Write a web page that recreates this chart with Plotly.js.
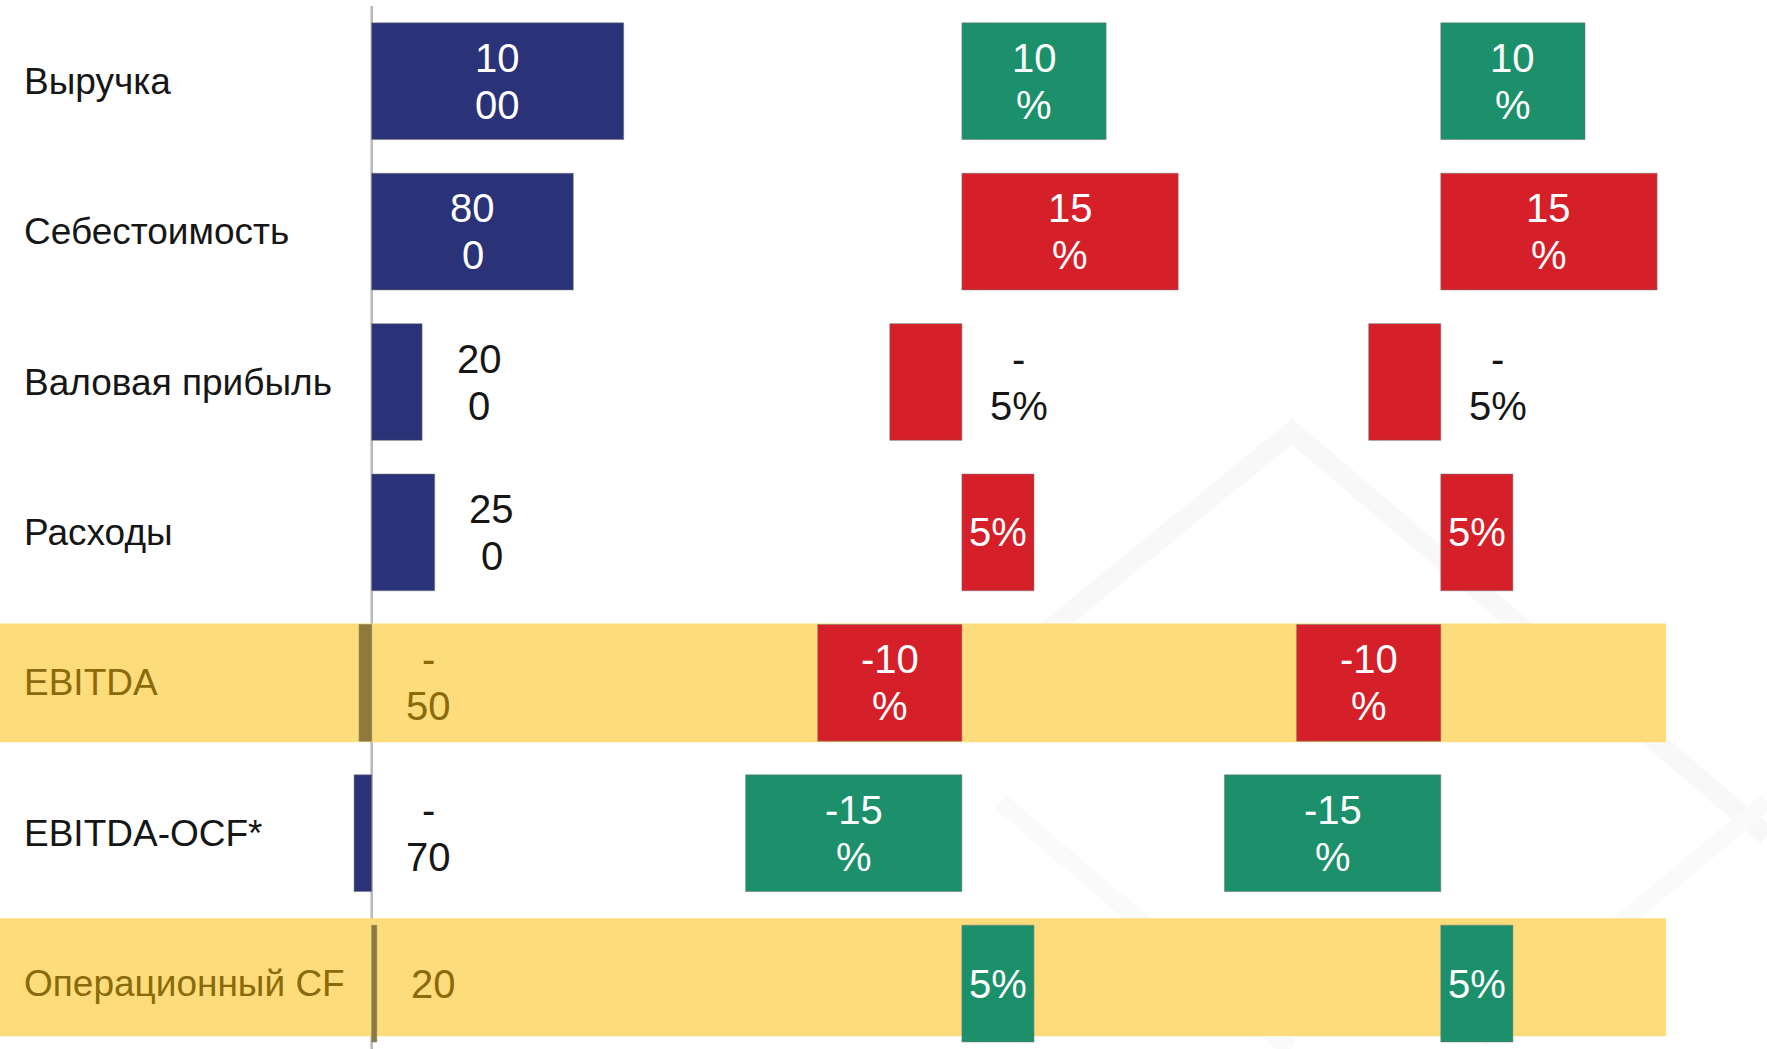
<!DOCTYPE html>
<html>
<head>
<meta charset="utf-8">
<script src="https://cdn.plot.ly/plotly-3.0.1.min.js"></script>
<style>html,body{margin:0;padding:0;background:#fff;}#chart{width:1767px;height:1049px;}</style>
</head>
<body>
<div id="chart"></div>
<script>
// ---- data ----
const categories = ['Выручка', 'Себестоимость', 'Валовая прибыль', 'Расходы', 'EBITDA', 'EBITDA-OCF*', 'Операционный CF'];
const values = [1000, 800, 200, 250, -50, -70, 20];
const changeA = [10, 15, -5, 5, -10, -15, 5];
const changeB = [10, 15, -5, 5, -10, -15, 5];
const valueLabels = ['10<br>00', '80<br>0', '20<br>0', '25<br>0', '-<br>50', '-<br>70', '20'];
const changeLabelsA = ['10<br>%', '15<br>%', '-<br>5%', '5%', '-10<br>%', '-15<br>%', '5%'];
const changeLabelsB = ['10<br>%', '15<br>%', '-<br>5%', '5%', '-10<br>%', '-15<br>%', '5%'];
const changeSentiment = ['good', 'bad', 'bad', 'bad', 'bad', 'good', 'good'];
const valueLabelInside = [true, true, false, false, false, false, false];
const changeLabelInside = [true, true, false, true, true, true, true];
const highlightedRows = ['EBITDA', 'Операционный CF'];

// ---- styles / geometry ----
const W = 1767, H = 1049, TOP = 6;
const NAVY = '#2A3278', BROWN = '#8F7A3C', RED = '#D52029', GREEN = '#1C8F6B';
const YELLOW = '#FDDD7B', OLIVE = '#8A6A0A', DARK = '#161616';
const FONT = 'Liberation Sans, Arial, sans-serif';
const VAL_SIZE = 40, CAT_SIZE = 37, LINE_GAP = 47, OUT_SHIFT = 57;

function axisRange(d0, d1, zeroPx, pxPerUnit) {
  return [-(zeroPx - d0 * W) / pxPerUnit, (d1 * W - zeroPx) / pxPerUnit];
}
const dom1 = [0, 0.38], dom2 = [0.38, 0.68], dom3 = [0.68, 1];
const r1 = axisRange(dom1[0], dom1[1], 371.7, 0.252);
const r2 = axisRange(dom2[0], dom2[1], 961.9, 14.42);
const r3 = axisRange(dom3[0], dom3[1], 1440.8, 14.42);
const rowPx = 150.4;
const yUnits = (H - TOP) / rowPx;

const isHi = c => highlightedRows.includes(c);
const barLine = {color: 'rgba(120,120,120,0.55)', width: 1};

const traces = [
  {type: 'bar', orientation: 'h', y: categories, x: values, xaxis: 'x', yaxis: 'y', width: 0.776,
   marker: {color: categories.map(c => isHi(c) ? BROWN : NAVY), line: barLine}, hoverinfo: 'skip'},
  {type: 'bar', orientation: 'h', y: categories, x: changeA, xaxis: 'x2', yaxis: 'y', width: 0.776,
   marker: {color: changeSentiment.map(s => s === 'good' ? GREEN : RED), line: barLine}, hoverinfo: 'skip'},
  {type: 'bar', orientation: 'h', y: categories, x: changeB, xaxis: 'x3', yaxis: 'y', width: 0.776,
   marker: {color: changeSentiment.map(s => s === 'good' ? GREEN : RED), line: barLine}, hoverinfo: 'skip'}
];

const annotations = [];
function addLabels(vals, labels, inside, xref) {
  vals.forEach((v, i) => {
    const lines = labels[i].split('<br>');
    const n = lines.length;
    const color = inside[i] ? '#ffffff' : (isHi(categories[i]) ? OLIVE : DARK);
    lines.forEach((ln, k) => {
      annotations.push({
        xref: xref, yref: 'y', x: inside[i] ? v / 2 : Math.max(v, 0), y: categories[i],
        xshift: inside[i] ? 0 : OUT_SHIFT, yshift: -(k - (n - 1) / 2) * LINE_GAP,
        text: ln, showarrow: false, xanchor: 'center', yanchor: 'middle',
        font: {family: FONT, size: VAL_SIZE, color: color}
      });
    });
  });
}
addLabels(values, valueLabels, valueLabelInside, 'x');
addLabels(changeA, changeLabelsA, changeLabelInside, 'x2');
addLabels(changeB, changeLabelsB, changeLabelInside, 'x3');

categories.forEach(c => {
  annotations.push({
    xref: 'paper', yref: 'y', x: 21.5 / W, y: c, text: c, showarrow: false,
    xanchor: 'left', yanchor: 'middle',
    font: {family: FONT, size: CAT_SIZE, color: isHi(c) ? OLIVE : DARK}
  });
});

const bandExtent = {'EBITDA': [-0.394, 0.395], 'Операционный CF': [-0.434, 0.35]};
const shapes = [
  // faint background watermark
  {type: 'path', xref: 'paper', yref: 'paper', layer: 'below',
   path: 'M ' + (930 / W) + ' ' + (1 - 725 / H) + ' L ' + (1292 / W) + ' ' + (1 - 428 / H) + ' L ' + (1767 / W) + ' ' + (1 - 835 / H),
   line: {color: '#f8f8f8', width: 20}},
  {type: 'path', xref: 'paper', yref: 'paper', layer: 'below',
   path: 'M ' + (1000 / W) + ' ' + (1 - 800 / H) + ' L ' + (1290 / W) + ' ' + (1 - 1049 / H) + ' M ' + (1480 / W) + ' ' + (1 - 1040 / H) + ' L ' + (1767 / W) + ' ' + (1 - 800 / H),
   line: {color: '#fafafa', width: 18}},
  // zero line of first panel
  {type: 'line', xref: 'x', yref: 'paper', x0: 0, x1: 0, y0: 0, y1: 1, layer: 'below',
   line: {color: '#b8b8b8', width: 2.5}}
];
highlightedRows.forEach(c => {
  const i = categories.indexOf(c);
  shapes.push({type: 'rect', xref: 'paper', yref: 'y', layer: 'below',
    x0: 0, x1: 1666 / W, y0: i + bandExtent[c][0], y1: i + bandExtent[c][1],
    fillcolor: YELLOW, line: {width: 0}});
});

const hiddenX = {showgrid: false, zeroline: false, showticklabels: false, showline: false, ticks: '', fixedrange: true};
const layout = {
  width: W, height: H,
  margin: {l: 0, r: 0, t: TOP, b: 0, pad: 0},
  paper_bgcolor: '#ffffff', plot_bgcolor: 'rgba(0,0,0,0)',
  showlegend: false, bargap: 0, hovermode: false,
  font: {family: FONT},
  xaxis: Object.assign({domain: dom1, range: r1, anchor: 'y'}, hiddenX),
  xaxis2: Object.assign({domain: dom2, range: r2, anchor: 'y'}, hiddenX),
  xaxis3: Object.assign({domain: dom3, range: r3, anchor: 'y'}, hiddenX),
  yaxis: {type: 'category', categoryorder: 'array', categoryarray: categories,
          range: [yUnits - 0.5, -0.5], showgrid: false, zeroline: false,
          showticklabels: false, showline: false, ticks: '', fixedrange: true},
  shapes: shapes,
  annotations: annotations
};

Plotly.newPlot('chart', traces, layout, {staticPlot: true, displayModeBar: false});
</script>
</body>
</html>
